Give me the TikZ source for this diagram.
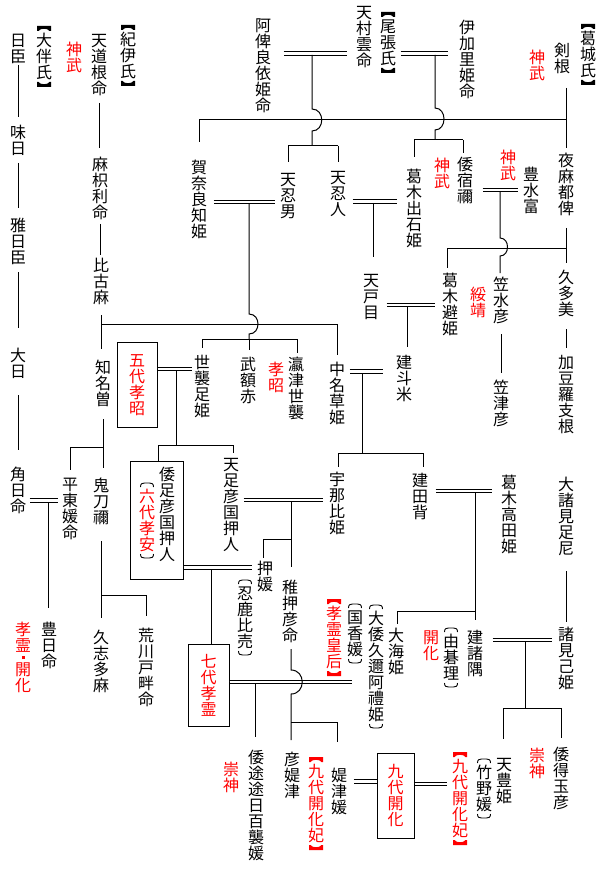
\documentclass[tikz,border=0pt]{standalone}
\usepackage{fontspec}
\setmainfont{Noto Sans CJK JP}
\usetikzlibrary{calc}
\makeatletter
\newcommand\tatecell[1]{\hbox to 16pt{\hss\vrule height 14.1pt depth 1.9pt width 0pt\relax#1\hss}}
\newcommand\tatetext[1]{\gdef\tate@list{}\@tfor\tate@ch:=#1\do{\xdef\tate@list{\unexpanded\expandafter{\tate@list}\noexpand\tatecell{\unexpanded\expandafter{\tate@ch}}}}\vbox{\offinterlineskip\tate@list}}
\makeatother
\newcommand\vlink[4]{\draw[shorten <=#3pt,shorten >=#4pt] (#1.south) -- (#1.south |- #2.north);}
\tikzset{
  pT/.pic={\draw[line width=0.9pt] (-6.5,2.5) .. controls (-6.5,-0.8) and (-5,-1.5) .. (-2.5,-1.5) -- (2.5,-1.5) .. controls (5,-1.5) and (6.5,-0.8) .. (6.5,2.5);},
  pB/.pic={\draw[line width=0.9pt] (-6.5,-2.5) .. controls (-6.5,0.8) and (-5,1.5) .. (-2.5,1.5) -- (2.5,1.5) .. controls (5,1.5) and (6.5,0.8) .. (6.5,-2.5);},
  lT/.pic={\fill (-7,2.5) -- (-7,-2.5) -- (7,-2.5) -- (7,2.5) -- (5.5,2.5) .. controls (4,-0.5) and (-4,-0.5) .. (-5.5,2.5) -- cycle;},
  lB/.pic={\fill (-7,-2.5) -- (-7,2.5) -- (7,2.5) -- (7,-2.5) -- (5.5,-2.5) .. controls (4,0.5) and (-4,0.5) .. (-5.5,-2.5) -- cycle;}
}
\begin{document}
\begin{tikzpicture}[x=1pt,y=-1pt,line width=1pt,
  every node/.style={inner sep=0pt,font=\fontsize{16pt}{16pt}\selectfont},
  tn/.style={anchor=north},
  rt/.style={anchor=north,text=red},
  dbl/.style={double,double distance=2.6pt}]
\useasboundingbox (0,0) rectangle (605,893);
% ---------- nodes: left columns
\node[tn] (ootomo) at (44,32) {\tatetext{大伴氏}};
\node[tn] (hiomi) at (18,32) {\tatetext{日臣}};
\node[tn] (ajihi) at (18,124) {\tatetext{味日}};
\node[tn] (michi) at (18,217) {\tatetext{雅日臣}};
\node[tn] (oohi) at (18,347) {\tatetext{大日}};
\node[tn] (tsunohi) at (18,466) {\tatetext{角日命}};
\node[tn] (hirato) at (70,476) {\tatetext{平東媛命}};
\node[tn] (toyohi) at (49,621) {\tatetext{豊日命}};
\node[rt] (koreikai) at (23,621) {\vbox{\offinterlineskip\tatecell{孝}\tatecell{霊}\hbox to 16pt{\hss\vrule height 4pt depth 4pt width 0pt\raise -1.5pt\hbox{\rule{3pt}{3pt}}\hss}\tatecell{開}\tatecell{化}}};
\node[tn] (kii) at (128,31) {\tatetext{紀伊氏}};
\node[rt] (jinmuA) at (74,41) {\tatetext{神武}};
\node[tn] (amamichi) at (99,32) {\tatetext{天道根命}};
\node[tn] (makiri) at (100,156) {\tatetext{麻枳利命}};
\node[tn] (hikoma) at (101,257) {\tatetext{比古麻}};
\node[tn] (chinaso) at (103,359) {\tatetext{知名曽}};
\node[tn] (onitone) at (101,477) {\tatetext{鬼刀禰}};
\node[tn] (kushitama) at (101,629) {\tatetext{久志多麻}};
\node[tn] (arakawa) at (146,627) {\tatetext{荒川戸畔命}};
\node[draw,text=red,minimum width=40pt,minimum height=85pt] (box5) at (137,384.5) {\tatetext{五代孝昭}};
\node[draw,minimum width=53pt,minimum height=118pt] (box6) at (156.5,520) {};
\node[tn] (ashihiko) at (167,466) {\tatetext{倭足彦国押人}};
\node[rt] (rokudai) at (147,488) {\tatetext{六代孝安}};
% ---------- top
\node[tn] (ahira) at (263,17) {\tatetext{阿俾良依姫命}};
\node[tn] (amamura) at (364,4) {\tatetext{天村雲命}};
\node[tn] (owari) at (388,18) {\tatetext{尾張氏}};
\node[tn] (ikari) at (467,19) {\tatetext{伊加里姫命}};
\node[tn] (tsurugine) at (562,42) {\tatetext{剣根}};
\node[tn] (katsuragi) at (588,30) {\tatetext{葛城氏}};
\node[rt] (jinmuB) at (537,49) {\tatetext{神武}};
\node[tn] (kanara) at (199,159) {\tatetext{賀奈良知姫}};
\node[tn] (amaoshio) at (288,171) {\tatetext{天忍男}};
\node[tn] (amaoshihito) at (338,169) {\tatetext{天忍人}};
\node[tn] (izushi) at (414,168) {\tatetext{葛木出石姫}};
\node[rt] (jinmuC) at (442,157) {\tatetext{神武}};
\node[tn] (yamatosukune) at (465,156) {\tatetext{倭宿禰}};
\node[rt] (jinmuD) at (508,149) {\tatetext{神武}};
\node[tn] (toyomi) at (531,166) {\tatetext{豊水富}};
\node[tn] (yamatsuhi) at (566,152) {\tatetext{夜麻都俾}};
\node[tn] (amatome) at (371,272) {\tatetext{天戸目}};
\node[tn] (sakuhime) at (450,272) {\tatetext{葛木避姫}};
\node[rt] (suizei) at (478,286) {\tatetext{綏靖}};
\node[tn] (kasamizu) at (501,276) {\tatetext{笠水彦}};
\node[tn] (kutami) at (566,269) {\tatetext{久多美}};
\node[tn] (kasatsu) at (501,379) {\tatetext{笠津彦}};
\node[tn] (kazura) at (566,354) {\tatetext{加豆羅支根}};
% ---------- middle
\node[tn] (yoso) at (202,354) {\tatetext{世襲足姫}};
\node[tn] (takenuka) at (248,356) {\tatetext{武額赤}};
\node[rt] (koshoA) at (276,361) {\tatetext{孝昭}};
\node[tn] (okitsu) at (296,356) {\tatetext{瀛津世襲}};
\node[tn] (nakuso) at (337,361) {\tatetext{中名草姫}};
\node[tn] (tatetome) at (404,354) {\tatetext{建斗米}};
\node[tn] (amatarashi) at (231,456) {\tatetext{天足彦国押人}};
\node[tn] (unahi) at (337,471) {\tatetext{宇那比姫}};
\node[tn] (tatetase) at (420,472) {\tatetext{建田背}};
\node[tn] (takadahime) at (509,474) {\tatetext{葛木高田姫}};
\node[tn] (oomoromi) at (566,476) {\tatetext{大諸見足尼}};
\node[tn] (oshihime) at (265,560) {\tatetext{押媛}};
\node[tn] (oshika) at (245,585) {\tatetext{忍鹿比売}};
\node[tn] (wakaoshi) at (290,579) {\tatetext{稚押彦命}};
\node[draw,text=red,minimum width=41pt,minimum height=82pt] (box7) at (208.5,685) {\tatetext{七代孝霊}};
\node[rt] (koreikogo) at (334,605) {\tatetext{孝霊皇后}};
\node[tn] (kuniaka) at (355,609) {\tatetext{国香媛}};
\node[tn] (oyamato) at (376,610) {\tatetext{大倭久邇阿禮姫}};
\node[tn] (ooama) at (396,627) {\tatetext{大海姫}};
\node[rt] (kaikaA) at (431,629) {\tatetext{開化}};
\node[tn] (yugori) at (451,633) {\tatetext{由碁理}};
\node[tn] (tatemoro) at (475,629) {\tatetext{建諸隅}};
\node[tn] (moromiko) at (566,626) {\tatetext{諸見己姫}};
% ---------- bottom
\node[tn] (momoso) at (256,749) {\tatetext{倭途途日百襲媛}};
\node[rt] (sujinA) at (231,761) {\tatetext{崇神}};
\node[tn] (hikoha) at (292,751) {\tatetext{彦媞津}};
\node[rt] (kaikahiA) at (316,763) {\tatetext{九代開化妃}};
\node[tn] (haetsu) at (339,767) {\tatetext{媞津媛}};
\node[draw,text=red,minimum width=37pt,minimum height=85pt] (box9) at (395.5,795.5) {\tatetext{九代開化}};
\node[rt] (kaikahiB) at (460,758) {\tatetext{九代開化妃}};
\node[tn] (takeno) at (484,764) {\tatetext{竹野媛}};
\node[tn] (amatoyo) at (504,756) {\tatetext{天豊姫}};
\node[rt] (sujinB) at (537,747) {\tatetext{崇神}};
\node[tn] (yamatoe) at (561,746) {\tatetext{倭得玉彦}};
% ---------- brackets
\foreach \n in {ootomo,kii,owari,katsuragi} {
  \pic at ($(\n.north)+(0,-3.5)$) {lT}; \pic at ($(\n.south)+(0,3.5)$) {lB};}
\foreach \n in {koreikogo,kaikahiA,kaikahiB} {
  \pic[red] at ($(\n.north)+(0,-3.5)$) {lT}; \pic[red] at ($(\n.south)+(0,3.5)$) {lB};}
\foreach \n in {rokudai,oshika,kuniaka,oyamato,yugori,takeno} {
  \pic at ($(\n.north)+(0,-3.5)$) {pT}; \pic at ($(\n.south)+(0,3.5)$) {pB};}
% ---------- marriage double lines
\coordinate (m1) at (312,53.5);
\coordinate (m2) at (435,53.5);
\coordinate (m3) at (249,202);
\coordinate (m4) at (373,201.5);
\coordinate (m5) at (500,190);
\coordinate (m6) at (407,305);
\coordinate (m7) at (176,369);
\coordinate (m8) at (362,371.5);
\coordinate (m9) at (48,500.5);
\coordinate (m10) at (291,500);
\coordinate (m11) at (475,491);
\coordinate (m12) at (211,567.5);
\coordinate (m13) at (255,682);
\coordinate (m14) at (525,640);
\coordinate (m15) at (365,781.5);
\coordinate (m16) at (430,784);
\draw[dbl] ([xshift=12pt]ahira.east |- m1) -- ([xshift=-9pt]amamura.west |- m1);
\draw[dbl] ([xshift=4pt]owari.east |- m2) -- ([xshift=-11pt]ikari.west |- m2);
\draw[dbl] ([xshift=6pt]kanara.east |- m3) -- ([xshift=-5pt]amaoshio.west |- m3);
\draw[dbl] ([xshift=6pt]amaoshihito.east |- m4) -- ([xshift=-9pt]izushi.west |- m4);
\draw[dbl] ([xshift=9pt]yamatosukune.east |- m5) -- ([xshift=-5pt]toyomi.west |- m5);
\draw[dbl] ([xshift=7pt]amatome.east |- m6) -- ([xshift=-7pt]sakuhime.west |- m6);
\draw[dbl] (box5.east |- m7) -- ([xshift=-2pt]yoso.west |- m7);
\draw[dbl] ([xshift=4pt]nakuso.east |- m8) -- ([xshift=-13pt]tatetome.west |- m8);
\draw[dbl] ([xshift=3pt]tsunohi.east |- m9) -- ([xshift=-4pt]hirato.west |- m9);
\draw[dbl] ([xshift=4pt]amatarashi.east |- m10) -- ([xshift=-6pt]unahi.west |- m10);
\draw[dbl] ([xshift=7pt]tatetase.east |- m11) -- ([xshift=-9pt]takadahime.west |- m11);
\draw[dbl] (box6.east |- m12) -- ([xshift=-5pt]oshihime.west |- m12);
\draw[dbl] (box7.east |- m13) -- ([xshift=-3pt]kuniaka.south |- m13);
\draw[dbl] ([xshift=9pt]tatemoro.east |- m14) -- ([xshift=-6pt]moromiko.west |- m14);
\draw[dbl] ([xshift=6pt]haetsu.east |- m15) -- (box9.west |- m15);
\draw[dbl] (box9.east |- m16) -- ([xshift=-5pt]kaikahiB.west |- m16);
% ---------- descent lines, column A and B
\vlink{hiomi}{ajihi}{0}{7}
\vlink{ajihi}{michi}{6}{9}
\vlink{michi}{oohi}{6}{19}
\vlink{oohi}{tsunohi}{15}{16}
\draw[shorten >=13pt] ([yshift=-1.5pt]m9) -- (m9 |- toyohi.north);
\vlink{amamichi}{makiri}{6}{8}
\vlink{makiri}{hikoma}{3}{2}
\vlink{hikoma}{chinaso}{9}{10}
\coordinate (jB) at (101,324);
\draw[shorten >=6pt] (jB) -| (nakuso.north);
\vlink{chinaso}{onitone}{11}{9}
\coordinate (jC) at (103,447);
\draw[shorten >=6pt] (jC) -| (hirato.north);
\vlink{onitone}{kushitama}{15}{11}
\coordinate (jD) at (101,595);
\draw[shorten >=11pt] (jD) -| (arakawa.north);
% ---------- top lines
\coordinate (jM) at (199,120);
\draw (jM) -- (yamatsuhi.north |- jM);
\draw[shorten >=17pt] (jM) -- (jM |- kanara.north);
\coordinate (jK) at ($(tsurugine.south -| yamatsuhi.north)+(0,13)$);
\draw[shorten >=4pt] (jK) -- (jK |- yamatsuhi.north);
\coordinate (k1) at (312,146);
\draw ([yshift=-1.5pt]m1) -- (312,109) .. controls +(13,0) and +(13,0) .. (312,131) -- (k1);
\draw (amaoshio.north |- k1) -- (amaoshihito.north |- k1);
\draw[shorten >=9pt] (amaoshio.north |- k1) -- (amaoshio.north);
\draw[shorten >=7pt] (amaoshihito.north |- k1) -- (amaoshihito.north);
\coordinate (k2) at (435,140);
\draw ([yshift=-1.5pt]m2) -- (435,108) .. controls +(12,0) and +(12,0) .. (435,130) -- (k2);
\draw (izushi.north |- k2) -- ([xshift=-2pt]yamatosukune.north |- k2);
\draw[shorten >=11pt] (izushi.north |- k2) -- (izushi.north);
\draw[shorten >=3pt] ([xshift=-2pt]yamatosukune.north |- k2) -- ([xshift=-2pt]yamatosukune.north);
\coordinate (k3) at (249,339);
\draw ([yshift=-1.5pt]m3) -- (249,314) .. controls +(12,0) and +(12,0) .. (249,334) -- (k3);
\draw (yoso.north |- k3) -- ([xshift=1pt]okitsu.north |- k3);
\draw[shorten >=6pt] (yoso.north |- k3) -- (yoso.north);
\draw[shorten >=6pt] (k3) -- (k3 |- takenuka.north);
\draw[shorten >=3pt] ([xshift=1pt]okitsu.north |- k3) -- ([xshift=1pt]okitsu.north);
\draw[shorten >=15pt] ([yshift=-1.5pt]m4) -- (m4 |- amatome.north);
\coordinate (jS) at ($(yamatsuhi.south)+(0,31)$);
\draw[shorten >=4pt] (jS) -| ([xshift=-3pt]sakuhime.north);
\draw[shorten >=3pt] ([yshift=-1.5pt]m5) -- (500,238) .. controls +(10,0) and +(10,0) .. (500,256) -- (m5 |- kasamizu.north);
\vlink{yamatsuhi}{kutami}{11}{6}
\vlink{kasamizu}{kasatsu}{9}{6}
\vlink{kutami}{kazura}{11}{6}
\draw[shorten >=7pt] ([yshift=-1.5pt]m6) -- (m6 |- tatetome.north);
% ---------- middle lines
\coordinate (k7) at (176,445);
\draw ([yshift=-1.5pt]m7) -- (k7);
\draw[shorten >=3pt] ([xshift=1.5pt]box6.north |- k7) -| ([xshift=2pt]amatarashi.north);
\draw ([xshift=1.5pt]box6.north |- k7) -- ([xshift=1.5pt]box6.north);
\coordinate (k8) at (362,453);
\draw ([yshift=-1.5pt]m8) -- (k8);
\draw[shorten >=4pt] (k8) -| ([xshift=1pt]unahi.north);
\draw[shorten >=5pt] (k8) -| ([xshift=3pt]tatetase.north);
\coordinate (k10) at (291,539);
\draw[shorten >=12pt] ([yshift=-1.5pt]m10) -- (m10 |- wakaoshi.north);
\draw[shorten >=2pt] (k10) -| ([xshift=-2pt]oshihime.north);
\draw[shorten >=9pt] ([yshift=-1.5pt]m11) -- (m11 |- tatemoro.north);
\coordinate (k11) at (475,611);
\draw[shorten >=3pt] (k11) -| ([xshift=1pt]ooama.north);
\draw ([yshift=-1.5pt]m12) -- (m12 |- box7.north);
\draw[shorten >=12pt] ([yshift=-1.5pt]m13) -- (m13 |- momoso.north);
\coordinate (k13) at (291,722);
\draw[shorten >=11pt] ([yshift=-5pt]wakaoshi.south -| k13) -- (291,670) .. controls +(15,0) and +(15,0) .. (291,694) -- (k13 |- hikoha.north);
\draw[shorten >=25pt] (k13) -| ([xshift=-2pt]haetsu.north);
\coordinate (k14) at (525,708);
\draw ([yshift=-1.5pt]m14) -- (k14);
\draw[shorten >=17pt] ([xshift=-1pt]amatoyo.north |- k14) -- ([xshift=-1pt]amatoyo.north);
\draw ([xshift=-1pt]amatoyo.north |- k14) -- (yamatoe.north |- k14);
\draw[shorten >=8pt] (yamatoe.north |- k14) -- (yamatoe.north);
\vlink{oomoromi}{moromiko}{14}{4}
\end{tikzpicture}
\end{document}
